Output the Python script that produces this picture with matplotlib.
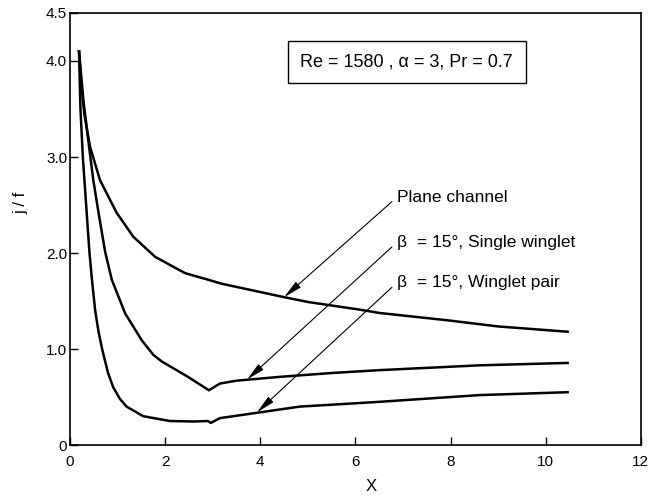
import matplotlib
matplotlib.use("Agg")
import matplotlib.pyplot as plt

# --- values ---
# Plane channel
x_plane = [0.19, 0.23, 0.30, 0.42, 0.63, 0.98, 1.33, 1.79, 2.42, 2.95, 3.19,
           4.50, 5.00, 6.09, 6.51, 7.92, 9.00, 10.46]
y_plane = [4.10, 3.80, 3.45, 3.11, 2.76, 2.42, 2.17, 1.96, 1.79, 1.715, 1.68,
           1.54, 1.49, 1.41, 1.375, 1.30, 1.235, 1.18]

# beta = 15 deg, single winglet
x_single = [0.19, 0.28, 0.40, 0.49, 0.60, 0.74, 0.88, 1.16, 1.51, 1.75, 1.93,
            2.48, 2.92, 3.15, 3.50, 4.41, 5.50, 6.51, 8.61, 10.46]
y_single = [4.10, 3.60, 3.11, 2.76, 2.42, 2.01, 1.72, 1.37, 1.09, 0.94, 0.87,
            0.71, 0.57, 0.64, 0.67, 0.71, 0.75, 0.78, 0.83, 0.855]

# beta = 15 deg, winglet pair
x_pair = [0.19, 0.22, 0.27, 0.34, 0.41, 0.47, 0.53, 0.60, 0.68, 0.80, 0.91, 1.05,
          1.19, 1.54, 2.10, 2.60, 2.90, 2.96, 3.15, 3.99, 4.83, 6.51, 8.61, 10.46]
y_pair = [4.10, 3.50, 3.00, 2.50, 2.00, 1.68, 1.40, 1.18, 0.99, 0.75, 0.60, 0.48,
          0.40, 0.30, 0.25, 0.245, 0.25, 0.23, 0.28, 0.34, 0.40, 0.45, 0.52, 0.55]

labels = ["Plane channel", "β  = 15°, Single winglet", "β  = 15°, Winglet pair"]
label_y = [2.58, 2.11, 1.69]
arrow_x = [4.50, 3.72, 3.93]
arrow_y = [1.54, 0.68, 0.34]

x_ticks = [0, 2, 4, 6, 8, 10, 12]
y_ticks = [0, 1.0, 2.0, 3.0, 4.0, 4.5]
y_tick_labels = ["0", "1.0", "2.0", "3.0", "4.0", "4.5"]

plt.rcParams['font.family'] = ['Liberation Sans', 'DejaVu Sans']

fig = plt.figure(figsize=(6.48, 4.96), dpi=100)
ax = fig.add_axes([0.108, 0.1028, 0.881, 0.871])

for xs, ys in [(x_plane, y_plane), (x_single, y_single), (x_pair, y_pair)]:
    ax.plot(xs, ys, color='black', lw=1.8, solid_joinstyle='round')

# leader lines with arrowheads
for text, ly, ax_, ay_ in zip(labels, label_y, arrow_x, arrow_y):
    ax.annotate(text, xy=(ax_, ay_), xytext=(6.87, ly), fontsize=12.5,
                ha='left', va='center',
                arrowprops=dict(arrowstyle='-|>,head_length=0.9,head_width=0.18',
                                color='black', lw=0.8, shrinkA=2, shrinkB=0,
                                relpos=(0, 0.5)))

# parameter box
ax.text(7.08, 3.99, "Re = 1580 , α = 3, Pr = 0.7", fontsize=13,
        ha='center', va='center',
        bbox=dict(boxstyle='square,pad=0.7', facecolor='white',
                  edgecolor='black', lw=1.0))

ax.set_xlim(0, 12)
ax.set_ylim(0, 4.5)
ax.set_xticks(x_ticks)
ax.set_xticklabels([str(t) for t in x_ticks])
ax.set_yticks(y_ticks)
ax.set_yticklabels(y_tick_labels)
ax.tick_params(axis='both', direction='in', length=6, width=1.0,
               labelsize=11, colors='black')
ax.tick_params(axis='x', pad=7)
ax.tick_params(axis='y', pad=2)

for sp in ax.spines.values():
    sp.set_linewidth(1.2)

ax.set_xlabel("X", fontsize=12)
ax.set_ylabel("j / f", fontsize=12)
ax.xaxis.set_label_coords(0.527, -0.078)
ax.yaxis.set_label_coords(-0.072, 0.56)

fig.savefig("out.png", dpi=100)
